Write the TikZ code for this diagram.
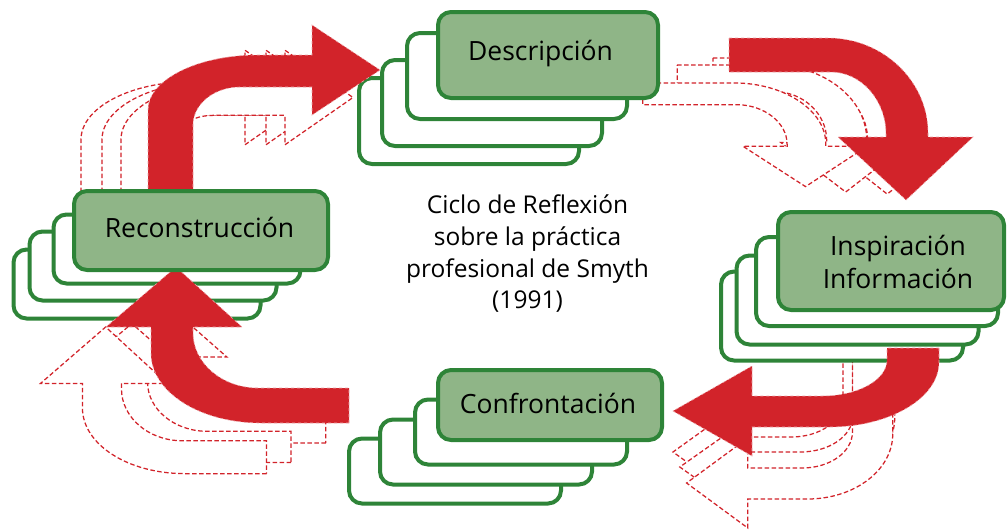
\documentclass[tikz,border=0pt]{standalone}
\usepackage{fontspec}
\setmainfont{Open Sans}
\definecolor{arrowred}{RGB}{210,35,42}
\definecolor{boxgreen}{RGB}{46,132,56}
\definecolor{boxfill}{RGB}{143,181,135}
\newcommand\pTL{(148,200) -- (148,110) .. controls (148,80) and (197,55) .. (258,55) -- (312,55) -- (312,25) -- (380,70) -- (312,115) -- (312,87) -- (240,87) .. controls (214,87) and (193,104) .. (193,125) -- (193,200) -- cycle}
\newcommand\pTR{(729,38) -- (828,38) .. controls (883,38) and (928,81) .. (928,133) -- (928,137) -- (973,137) -- (906,200) -- (838,137) -- (886,137) -- (886,134) .. controls (886,100) and (861,72) .. (831,72) -- (729,72) -- cycle}
\newcommand\pBR{(939,348) -- (939,362) .. controls (939,398) and (890,427) .. (829,427) -- (752,427) -- (752,456) -- (673,411) -- (752,366) -- (752,396) -- (822,396) .. controls (858,396) and (887,380) .. (887,360) -- (887,348) -- cycle}
\newcommand\pBRlong{(939,250) -- (939,362) .. controls (939,398) and (890,427) .. (829,427) -- (752,427) -- (752,456) -- (673,411) -- (752,366) -- (752,396) -- (822,396) .. controls (858,396) and (887,380) .. (887,360) -- (887,250) -- cycle}
\newcommand\pBL{(349,423) -- (261,423) .. controls (200,423) and (151,392) .. (151,353) -- (151,327) -- (106,327) -- (176,267) -- (242,327) -- (193,327) -- (193,333) .. controls (193,363) and (222,388) .. (258,388) -- (349,388) -- cycle}
\tikzset{
  echo/.style={draw=arrowred, fill=white, dash pattern=on 4.5pt off 2.5pt, line width=1.25pt},
  mainarrow/.style={fill=arrowred, draw=arrowred!40!white, dash pattern=on 3pt off 3pt, line width=0.6pt},
  backbox/.style={draw=boxgreen, fill=white, line width=4pt, rounded corners=13pt, inner sep=0pt, outer sep=0pt},
  frontbox/.style={backbox, fill=boxfill},
  boxlabel/.style={font=\fontsize{26.5}{32}\selectfont, anchor=base, inner sep=0pt},
  centertext/.style={font=\fontsize{24.5}{32}\selectfont, anchor=base, inner sep=0pt},
}
\begin{document}
\begin{tikzpicture}[x=1pt,y=-1pt]
\useasboundingbox (0,0) rectangle (1008,531);
% ---- echo outlines ----
% top-left
\begin{scope}[shift={(-67,24)}, yscale=1.05] \path[echo] \pTL; \end{scope}
\begin{scope}[shift={(-46,24)}, yscale=1.05] \path[echo] \pTL; \end{scope}
\begin{scope}[shift={(-27,24)}, yscale=1.05] \path[echo] \pTL; \end{scope}
% top-right
\begin{scope}[shift={(-5.2,26.1)}, xscale=0.985, yscale=0.84] \path[echo] \pTR; \end{scope}
\begin{scope}[shift={(-16.8,35.2)}, xscale=0.952, yscale=0.784] \path[echo] \pTR; \end{scope}
\begin{scope}[shift={(-28,58.6)}, xscale=0.92, yscale=0.64] \path[echo] \pTR; \end{scope}
% bottom-right
\begin{scope}[shift={(138.6,41)}, xscale=0.794] \path[echo] \pBRlong; \end{scope}
\begin{scope}[shift={(136,56)}, xscale=0.808] \path[echo] \pBRlong; \end{scope}
\begin{scope}[shift={(165,72)}, xscale=0.775] \path[echo] \pBRlong; \end{scope}
% bottom-left
\begin{scope}[shift={(3,64)}, xscale=0.925, yscale=0.896] \path[echo] \pBL; \end{scope}
\begin{scope}[shift={(-30,86)}, xscale=0.92, yscale=0.89] \path[echo] \pBL; \end{scope}
\begin{scope}[shift={(-58,76)}, xscale=0.93, yscale=0.94] \path[echo] \pBL; \end{scope}
% ---- back boxes ----
\node[backbox, minimum width=220pt, minimum height=86pt] (d4) at (469,121) {};
\node[backbox, minimum width=220pt, minimum height=86pt] (d3) at (492,103) {};
\node[backbox, minimum width=220pt, minimum height=86pt] (d2) at (517,76) {};
\node[backbox, minimum width=242pt, minimum height=89pt] (i4) at (842,316) {};
\node[backbox, minimum width=242pt, minimum height=89pt] (i3) at (857.5,300) {};
\node[backbox, minimum width=242pt, minimum height=89pt] (i2) at (877,281.5) {};
\node[backbox, minimum width=212pt, minimum height=65pt] (c4) at (455,471) {};
\node[backbox, minimum width=212pt, minimum height=65pt] (c3) at (486,452) {};
\node[backbox, minimum width=212pt, minimum height=65pt] (c2) at (521,432) {};
\node[backbox, minimum width=247pt, minimum height=69pt] (r4) at (137,284) {};
\node[backbox, minimum width=247pt, minimum height=69pt] (r3) at (153,266) {};
\node[backbox, minimum width=247pt, minimum height=69pt] (r2) at (177,249) {};
% ---- main arrows ----
\path[mainarrow] \pTL;
\path[mainarrow] \pTR;
\path[mainarrow] \pBR;
\path[mainarrow] \pBL;
% ---- front boxes ----
\node[frontbox, minimum width=220pt, minimum height=86pt] (desc) at (548,55) {};
\node[frontbox, minimum width=226pt, minimum height=98pt] (insp) at (891,261) {};
\node[frontbox, minimum width=224pt, minimum height=70pt] (confr) at (550,405) {};
\node[frontbox, minimum width=254pt, minimum height=79pt] (recon) at (201,230.5) {};
% ---- labels ----
\node[boxlabel] (tdesc) at (540.5,60) {Descripción};
\node[boxlabel] (tinsp1) at (898,255) {Inspiración};
\node[boxlabel] (tinsp2) at (898,288) {Información};
\node[boxlabel] (tconfr) at (548,413) {Confrontación};
\node[boxlabel] (trecon) at (199.5,237) {Reconstrucción};
\node[centertext] (ct1) at (527.5,213) {Ciclo de Reflexión};
\node[centertext] (ct2) at (527.5,245) {sobre la práctica};
\node[centertext] (ct3) at (527.5,277) {profesional de Smyth};
\node[centertext] (ct4) at (527.5,308) {(1991)};
\end{tikzpicture}
\end{document}
